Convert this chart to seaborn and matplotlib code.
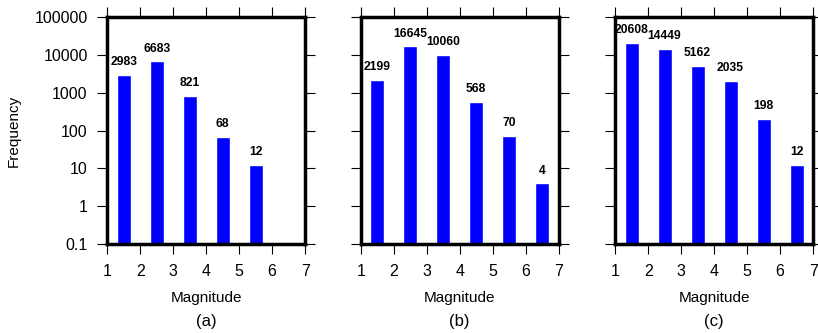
import numpy as np
import pandas as pd
import matplotlib
matplotlib.use("Agg")
import matplotlib.pyplot as plt
import seaborn as sns

# Data
mag_a = [1.5, 2.5, 3.5, 4.5, 5.5]
freq_a = [2983, 6683, 821, 68, 12]
mag_b = [1.5, 2.5, 3.5, 4.5, 5.5, 6.5]
freq_b = [2199, 16645, 10060, 568, 70, 4]
mag_c = [1.5, 2.5, 3.5, 4.5, 5.5, 6.5]
freq_c = [20608, 14449, 5162, 2035, 198, 12]
panel_labels = ["(a)", "(b)", "(c)"]
y_ticks = [0.1, 1, 10, 100, 1000, 10000, 100000]
y_tick_labels = ["0.1", "1", "10", "100", "1000", "10000", "100000"]
x_ticks = [1, 2, 3, 4, 5, 6, 7]

sns.set_style("white")
plt.rcParams['font.family'] = ['Liberation Sans', 'DejaVu Sans']
plt.rcParams['text.color'] = 'black'
plt.rcParams['axes.labelcolor'] = 'black'
plt.rcParams['xtick.color'] = 'black'
plt.rcParams['ytick.color'] = 'black'
plt.rcParams['xtick.labelsize'] = 11.5
plt.rcParams['ytick.labelsize'] = 11.5

fig = plt.figure(figsize=(8.18, 3.33), dpi=100)
lefts = [0.131, 0.441, 0.752]
panels = [(mag_a, freq_a), (mag_b, freq_b), (mag_c, freq_c)]

for i, (mags, freqs) in enumerate(panels):
    ax = fig.add_axes([lefts[i], 0.267, 0.242, 0.682])
    df = pd.DataFrame({'mag': mags, 'freq': freqs})
    sns.barplot(data=df, x='mag', y='freq', native_scale=True, width=0.43,
                color='#0000FF', saturation=1, ax=ax, errorbar=None)
    ax.set_yscale('log')
    ax.set_ylim(0.1, 100000)
    ax.set_xlim(1, 7)
    ax.set_xticks(x_ticks)
    ax.set_xticklabels([str(t) for t in x_ticks], fontsize=11.5)
    ax.set_yticks(y_ticks)
    ax.minorticks_off()
    if i == 0:
        ax.set_yticklabels(y_tick_labels, fontsize=11.5)
        ax.set_ylabel('Frequency', fontsize=11, labelpad=10)
    else:
        ax.set_yticklabels([])
        ax.set_ylabel('')
    ax.set_xlabel('Magnitude', fontsize=11, labelpad=9)
    ax.tick_params(axis='both', which='major', direction='out', length=7,
                   width=0.8, top=True, right=True,
                   bottom=True, left=True, pad=7)
    for sp in ax.spines.values():
        sp.set_visible(True)
        sp.set_linewidth(2.5)
        sp.set_color('black')
    for m, f in zip(mags, freqs):
        ax.annotate(str(f), (m, f), xytext=(0, 5), textcoords='offset points',
                    ha='center', va='bottom', fontsize=8.7, fontweight='bold')
    ax.text(0.5, -0.31, panel_labels[i], transform=ax.transAxes,
            ha='center', va='top', fontsize=12)

fig.savefig('out.png', dpi=100)
